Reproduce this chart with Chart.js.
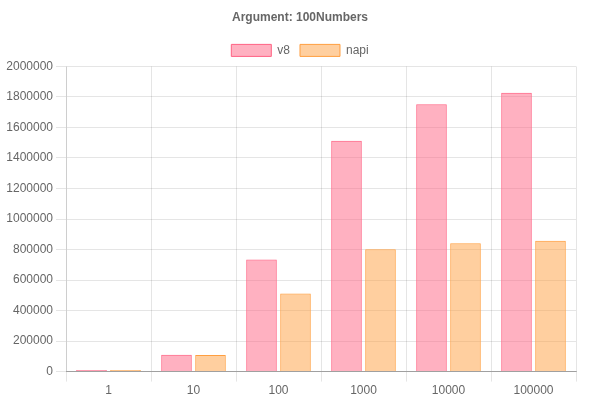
<!DOCTYPE html>
<html>
<head>
<meta charset="utf-8">
<script src="https://cdn.jsdelivr.net/npm/chart.js@4.4.0/dist/chart.umd.min.js"></script>
<style>
	body { margin: 0; background: #fff; }
</style>
</head>
<body>
<canvas id="bench-chart" width="600" height="400"></canvas>
<script>
const labels = ["1", "10", "100", "1000", "10000", "100000"];
const v8Values = [11000, 111000, 734000, 1512000, 1752000, 1828000];
const napiValues = [10000, 109000, 512000, 802000, 841000, 858000];

Chart.defaults.font.family = "'Helvetica Neue', 'Helvetica', 'Arial', sans-serif";
Chart.defaults.font.size = 12;
Chart.defaults.color = '#666';

const data =
{
	labels: labels,
	datasets:
	[
		{
			label: "v8",
			backgroundColor: 'rgba(255, 99, 132, 0.5)',
			borderColor: 'rgb(255, 99, 132)',
			borderWidth: 1,
			data: v8Values,
		},
		{
			label: "napi",
			backgroundColor: 'rgba(255, 159, 64, 0.5)',
			borderColor: 'rgb(255, 159, 64)',
			borderWidth: 1,
			data: napiValues,
		}
	]
};

const config =
{
	type: "bar",
	data: data,
	options:
	{
		responsive: false,
		animation: false,
		layout: { padding: { left: 0, right: 0, top: 0, bottom: 0 } },
		plugins:
		{
			title:
			{
				display: true,
				text: "Argument: 100Numbers",
				color: '#666',
				font: { size: 12, weight: 'bold' },
				padding: { top: 10, bottom: 10 }
			},
			legend:
			{
				labels: { boxWidth: 40, boxHeight: 12, padding: 10 }
			},
			tooltip: { enabled: false }
		},
		scales:
		{
			x:
			{
				grid: { color: 'rgba(0, 0, 0, 0.1)', tickLength: 10, offset: true },
				border: { color: 'rgba(0, 0, 0, 0.3)' },
				ticks: { padding: 2 }
			},
			y:
			{
				min: 0,
				max: 2000000,
				ticks: { stepSize: 200000, padding: 3, callback: (value) => String(value) },
				grid: { color: 'rgba(0, 0, 0, 0.1)', tickLength: 10 },
				border: { color: 'rgba(0, 0, 0, 0.1)' },
				afterFit: (axis) => { axis.width = 66; }
			},
			// empty right-hand spacer so the plot ends where the original did
			spacer:
			{
				type: 'linear',
				position: 'right',
				ticks: { display: false },
				grid: { display: false },
				border: { display: false },
				afterFit: (axis) => { axis.width = 24; }
			}
		}
	}
};

new Chart(document.getElementById("bench-chart"), config);
</script>
</body>
</html>
